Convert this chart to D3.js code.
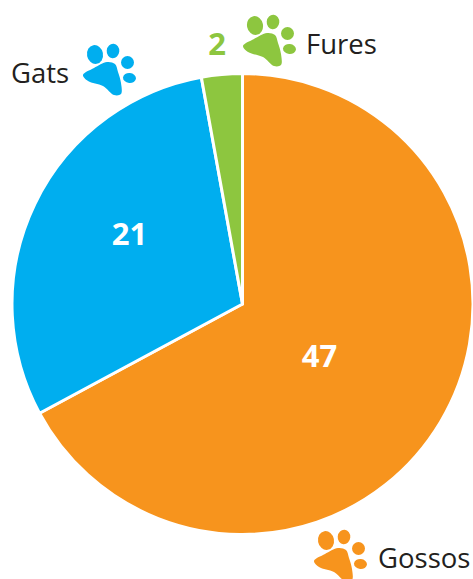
<!DOCTYPE html>
<html>
<head>
<meta charset="utf-8">
<script src="https://cdn.jsdelivr.net/npm/d3@7"></script>
<style>
  html, body { margin: 0; padding: 0; background: #fff; }
  svg { display: block; }
  text { font-family: "Open Sans", sans-serif; }
</style>
</head>
<body>
<div id="chart"></div>
<script>
// chart values
var categories = ["Gossos", "Gats", "Fures"];
var values = [47, 21, 2];
var colors = ["#F7941D", "#00AEEF", "#8DC63F"];

var svgWidth = 473;
var svgHeight = 579;
var center = { x: 242.5, y: 304 };
var radius = 230.5;

var svg = d3.select("#chart")
    .append("svg")
    .attr("width", svgWidth)
    .attr("height", svgHeight);

var color = d3.scaleOrdinal().domain(categories).range(colors);

// slices, clockwise from 12 o'clock
var pie = d3.pie().sort(null).value(function(d, i) { return values[i]; });
var arc = d3.arc().innerRadius(0).outerRadius(radius);

var pieGroup = svg.append("g")
    .attr("transform", "translate(" + center.x + "," + center.y + ")");

pieGroup.selectAll("path")
    .data(pie(categories))
    .enter()
    .append("path")
    .attr("d", arc)
    .attr("fill", function(d) { return color(d.data); })
    .attr("stroke", "#fff")
    .attr("stroke-width", 3)
    .attr("stroke-linejoin", "round");

// value labels
var valueLabels = [
    { x: 319.5, y: 356, fill: "#fff" },
    { x: 129.5, y: 234, fill: "#fff" },
    { x: 217, y: 44, fill: "#8DC63F" }
];

svg.selectAll(".value")
    .data(valueLabels)
    .enter()
    .append("text")
    .attr("class", "value")
    .attr("x", function(d) { return d.x; })
    .attr("y", function(d) { return d.y; })
    .attr("dy", "0.36em")
    .attr("text-anchor", "middle")
    .attr("font-size", 31)
    .attr("font-weight", 700)
    .attr("fill", function(d) { return d.fill; })
    .text(function(d, i) { return values[i]; });

// category labels
var nameLabels = [
    { x: 378, y: 568 },
    { x: 11, y: 83 },
    { x: 306, y: 54 }
];

svg.selectAll(".name")
    .data(nameLabels)
    .enter()
    .append("text")
    .attr("class", "name")
    .attr("x", function(d) { return d.x; })
    .attr("y", function(d) { return d.y; })
    .attr("font-size", 27.5)
    .attr("fill", "#231F20")
    .text(function(d, i) { return categories[i]; });

// paw icon, drawn around the green one's spot and moved for the others
var pawOffsets = [[71, 515], [-160, 29], [0, 0]];
var toes = [
    { x: 255, y: 25.5, rx: 8, ry: 9.5, rot: -10 },
    { x: 273, y: 22, rx: 6.3, ry: 7.2, rot: 5 },
    { x: 287.5, y: 33.5, rx: 6.5, ry: 6.5, rot: 0 },
    { x: 289.5, y: 49, rx: 6.5, ry: 5, rot: 5 }
];
var padPoints = [[267, 33], [254, 39], [243, 46], [248, 52], [263, 57], [274, 66], [281, 65], [281, 54], [278, 43], [275, 35]];
var padLine = d3.line().curve(d3.curveCatmullRomClosed.alpha(0.5));

var paws = svg.selectAll(".paw")
    .data(pawOffsets)
    .enter()
    .append("g")
    .attr("class", "paw")
    .attr("fill", function(d, i) { return colors[i]; })
    .attr("transform", function(d) { return "translate(" + d[0] + "," + d[1] + ")"; });

paws.append("path").attr("d", padLine(padPoints));

paws.selectAll("ellipse")
    .data(toes)
    .enter()
    .append("ellipse")
    .attr("rx", function(d) { return d.rx; })
    .attr("ry", function(d) { return d.ry; })
    .attr("transform", function(d) { return "translate(" + d.x + "," + d.y + ") rotate(" + d.rot + ")"; });
</script>
</body>
</html>
